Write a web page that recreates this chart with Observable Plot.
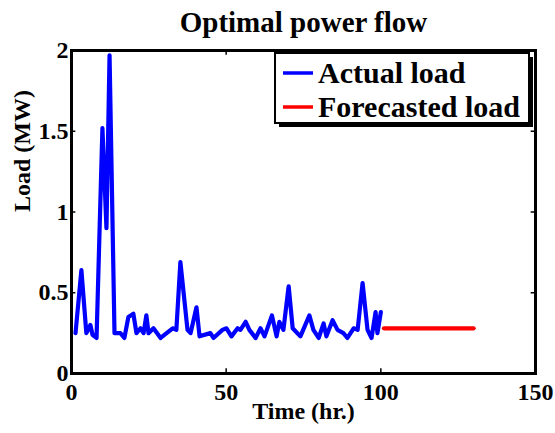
<!DOCTYPE html>
<html><head><meta charset="utf-8">
<script src="https://cdn.jsdelivr.net/npm/d3@7"></script>
<script src="https://cdn.jsdelivr.net/npm/@observablehq/plot@0.6"></script>
<style>body{margin:0;background:#fff} svg{display:block}</style>
</head><body><div id="chart"></div>
<script>
const title = "Optimal power flow";
const xLabel = "Time (hr.)";
const yLabel = "Load (MW)";
const seriesNames = ["Actual load", "Forecasted load"];
const seriesColors = ["#0000ff", "#ff0000"];
const xTicks = [0, 50, 100, 150];
const yTicks = [0, 0.5, 1, 1.5, 2];
const yTickLabels = ["0", "0.5", "1", "1.5", "2"];

const actualTime = [1.3, 3.2, 4.8, 6.1, 6.8, 8.1, 10.0, 11.3, 12.3, 13.9, 15.8, 17.1, 18.4, 20.0, 21.0, 22.3, 23.3, 24.2, 24.9,
  26.5, 28.8, 32.7, 33.9, 35.2, 37.5, 38.5, 40.4, 41.4, 44.9, 45.9, 48.8, 50.1, 51.7, 53.7, 54.6, 56.3, 57.5, 59.5, 61.1, 62.4, 64.8,
  66.3, 67.2, 68.5, 70.2, 71.5, 74.0, 76.9, 78.2, 79.9, 81.5, 82.4, 84.4, 86.0, 87.9, 89.2, 91.2, 92.5, 94.1, 95.7, 97.0, 98.3, 98.9, 100.0];
const actualLoad = [0.25, 0.64, 0.25, 0.30, 0.24, 0.22, 1.52, 0.90, 1.97, 0.25, 0.25, 0.22, 0.35, 0.37, 0.25, 0.28, 0.25, 0.36, 0.25,
  0.28, 0.22, 0.28, 0.27, 0.69, 0.27, 0.25, 0.41, 0.23, 0.25, 0.22, 0.27, 0.28, 0.23, 0.28, 0.27, 0.32, 0.27, 0.22, 0.28, 0.23, 0.36,
  0.23, 0.32, 0.27, 0.54, 0.28, 0.23, 0.36, 0.27, 0.22, 0.31, 0.23, 0.33, 0.27, 0.25, 0.22, 0.28, 0.27, 0.56, 0.27, 0.22, 0.38, 0.25, 0.38];
const forecastTime = [101, 130];
const forecastLoad = [0.28, 0.28];

const font = "'Liberation Serif', 'Times New Roman', serif";
const actual = actualTime.map((t, i) => ({t, v: actualLoad[i]}));
const forecast = forecastTime.map((t, i) => ({t, v: forecastLoad[i]}));

const plot = Plot.plot({
  width: 555, height: 433,
  marginLeft: 71, marginRight: 20, marginTop: 50, marginBottom: 60,
  style: {fontFamily: font, fontWeight: "bold", fontSize: "24px", color: "#000", background: "#fff"},
  x: {domain: [0, 150]},
  y: {domain: [0, 2]},
  marks: [
    Plot.axisX(xTicks, {tickSize: 0, tickPadding: 9, fontSize: 24, fontWeight: "bold", label: null}),
    Plot.axisY(yTicks, {tickSize: 0, tickPadding: 3, fontSize: 24, fontWeight: "bold", label: null,
      tickFormat: d => yTickLabels[yTicks.indexOf(d)]}),
    Plot.ruleX(xTicks, {x: d => d, y1: 0, y2: 0.03, stroke: "#000", strokeWidth: 1.5}),
    Plot.ruleX(xTicks, {x: d => d, y1: 2, y2: 1.97, stroke: "#000", strokeWidth: 1.5}),
    Plot.ruleY(yTicks, {y: d => d, x1: 0, x2: 1.4, stroke: "#000", strokeWidth: 1.5}),
    Plot.ruleY(yTicks, {y: d => d, x1: 150, x2: 148.6, stroke: "#000", strokeWidth: 1.5}),
    Plot.line(actual, {x: "t", y: "v", stroke: seriesColors[0], strokeWidth: 4.2, strokeLinejoin: "round"}),
    Plot.line(forecast, {x: "t", y: "v", stroke: seriesColors[1], strokeWidth: 4.2}),
    Plot.frame({stroke: "#000", strokeWidth: 3}),
    Plot.text([title], {frameAnchor: "top", dy: -39, fontSize: 29, fontWeight: "bold", fill: "#000"}),
    Plot.text([xLabel], {frameAnchor: "bottom", dy: 45, fontSize: 24, fontWeight: "bold", fill: "#000"}),
    Plot.text([yLabel], {frameAnchor: "left", dx: -49, rotate: -90, fontSize: 24, fontWeight: "bold", fill: "#000"})
  ]
});

// legend box (MATLAB style)
const svg = d3.select(plot);
const lg = svg.append("g");
lg.append("rect").attr("x", 279).attr("y", 57).attr("width", 254).attr("height", 70).attr("fill", "#000");
lg.append("rect").attr("x", 275).attr("y", 53).attr("width", 254).attr("height", 70)
  .attr("fill", "#fff").attr("stroke", "#000").attr("stroke-width", 2);
seriesNames.forEach((name, i) => {
  const yy = 73 + i * 34;
  lg.append("line").attr("x1", 283).attr("x2", 313).attr("y1", yy).attr("y2", yy)
    .attr("stroke", seriesColors[i]).attr("stroke-width", 3.5);
  lg.append("text").attr("x", 318).attr("y", yy + 10).text(name)
    .attr("text-anchor", "start")
    .attr("font-family", font).attr("font-weight", "bold").attr("font-size", 30).attr("fill", "#000");
});

document.getElementById("chart").appendChild(plot);
</script>
</body></html>
